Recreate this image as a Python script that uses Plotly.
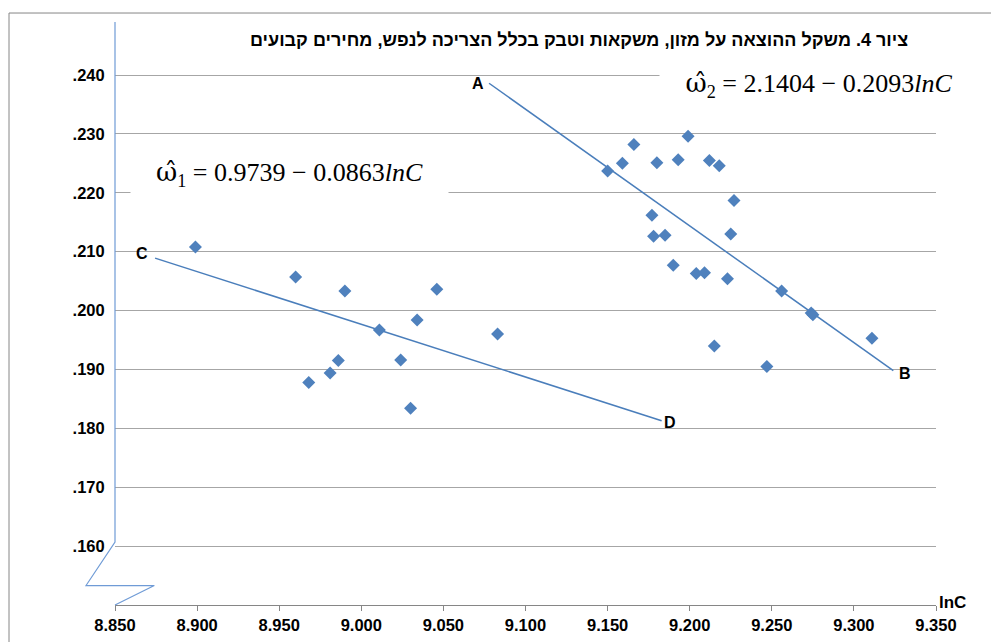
import plotly.graph_objects as go

# ---- data ----
g1_lnc = [8.899, 8.960, 8.990, 8.968, 8.981, 8.986, 9.011, 9.034, 9.024, 9.030, 9.046, 9.083]
g1_w = [0.2108, 0.2057, 0.2033, 0.1878, 0.1894, 0.1915, 0.1967, 0.1984, 0.1916, 0.1834, 0.2036, 0.1960]

g2_lnc = [9.150, 9.159, 9.166, 9.180, 9.193, 9.199, 9.212, 9.218, 9.227, 9.177, 9.178, 9.185,
          9.225, 9.190, 9.204, 9.209, 9.223, 9.256, 9.274, 9.275, 9.311, 9.215, 9.247]
g2_w = [0.2237, 0.2250, 0.2282, 0.2251, 0.2256, 0.2296, 0.2255, 0.2246, 0.2187, 0.2162, 0.2126, 0.2128,
        0.2130, 0.2077, 0.2063, 0.2064, 0.2054, 0.2033, 0.1996, 0.1993, 0.1953, 0.1940, 0.1905]

line_cd_x = [8.8744, 9.1829]
line_cd_y = [0.2089, 0.1813]
line_ab_x = [9.0778, 9.3240]
line_ab_y = [0.2386, 0.1898]

x_ticks = [8.85, 8.90, 8.95, 9.00, 9.05, 9.10, 9.15, 9.20, 9.25, 9.30, 9.35]
x_ticktext = ["8.850", "8.900", "8.950", "9.000", "9.050", "9.100", "9.150", "9.200", "9.250", "9.300", "9.350"]
y_ticks = [0.16, 0.17, 0.18, 0.19, 0.20, 0.21, 0.22, 0.23, 0.24]
y_ticktext = [".160", ".170", ".180", ".190", ".200", ".210", ".220", ".230", ".240"]

title_text = "ציור 4. משקל ההוצאה על מזון, משקאות וטבק בכלל הצריכה לנפש, מחירים קבועים"
OMEGA = "<span style='font-family:DejaVu Serif'>ω̂</span>"
eq1 = OMEGA + "<sub>1</sub> = 0.9739 − 0.0863<i>lnC</i>"
eq2 = OMEGA + "<sub>2</sub> = 2.1404 − 0.2093<i>lnC</i>"

BLUE = "#4f81bd"
LINEBLUE = "#4a7ebb"
GRID = "#a6a6a6"
AXIS = "#868686"
SANS = "Liberation Sans"
SERIF = "Liberation Serif"

fig = go.Figure()
fig.add_trace(go.Scatter(x=line_cd_x, y=line_cd_y, mode="lines",
                         line=dict(color=LINEBLUE, width=1.5), showlegend=False, hoverinfo="skip"))
fig.add_trace(go.Scatter(x=line_ab_x, y=line_ab_y, mode="lines",
                         line=dict(color=LINEBLUE, width=1.5), showlegend=False, hoverinfo="skip"))
fig.add_trace(go.Scatter(x=g1_lnc, y=g1_w, mode="markers",
                         marker=dict(symbol="diamond", size=10, color=BLUE), showlegend=False))
fig.add_trace(go.Scatter(x=g2_lnc, y=g2_w, mode="markers",
                         marker=dict(symbol="diamond", size=10, color=BLUE), showlegend=False))

# page body has an 8px margin, so offset the margins to keep the plot area in place
fig.update_layout(
    width=999, height=642, autosize=False,
    margin=dict(l=107, r=71, t=14, b=45, pad=0),
    paper_bgcolor="white", plot_bgcolor="white",
    showlegend=False,
)
fig.update_xaxes(
    range=[8.85, 9.35], tickvals=x_ticks, ticktext=x_ticktext,
    showgrid=False, zeroline=False, showline=True, linecolor=AXIS, linewidth=1,
    ticks="outside", ticklen=5, tickcolor=AXIS, tickwidth=1,
    tickfont=dict(family=SANS, size=16.5, color="black", weight="bold"),
)
fig.update_yaxes(
    range=[0.150, 0.249], tickvals=y_ticks, ticktext=y_ticktext,
    showgrid=True, gridcolor=GRID, gridwidth=1, zeroline=False, showline=False,
    ticks="outside", ticklen=6, tickcolor="rgba(0,0,0,0)",
    tickfont=dict(family=SANS, size=16.5, color="black", weight="bold"),
)

# outer frame
fig.add_shape(type="rect", xref="paper", yref="paper",
              x0=-0.1291, y0=-0.08, x1=1.09, y1=1.0154,
              line=dict(color=AXIS, width=1), fillcolor="rgba(0,0,0,0)", layer="below")
# y axis line with break mark
fig.add_shape(type="path", xref="paper", yref="paper",
              path="M 0,1 L 0,0.108 L -0.0353,0.0334 L 0.0479,0.0334 L 0,0",
              line=dict(color="#6f9bd6", width=1.2))

# title
fig.add_annotation(text=title_text, xref="paper", yref="paper",
                   x=(910 - 115) / 821, y=(605 - 40) / 583, xanchor="right", yanchor="middle",
                   showarrow=False, font=dict(family=SANS, size=18, color="black", weight="bold"))

# equations with white boxes
fig.add_annotation(text=eq1, xref="paper", yref="paper",
                   x=(289.5 - 115) / 821, y=(605 - 174) / 583, xanchor="center", yanchor="middle",
                   width=317, height=50, align="center", bgcolor="white", borderpad=0,
                   showarrow=False, font=dict(family=SERIF, size=26, color="black"))
fig.add_annotation(text=eq2, xref="paper", yref="paper",
                   x=(819 - 115) / 821, y=(605 - 85) / 583, xanchor="center", yanchor="middle",
                   width=318, height=40, align="center", bgcolor="white", borderpad=0,
                   showarrow=False, font=dict(family=SERIF, size=26, color="black"))

# point labels
lab_font = dict(family=SANS, size=16, color="black", weight="bold")
fig.add_annotation(text="A", x=line_ab_x[0], y=line_ab_y[0], xshift=-11, yshift=0,
                   showarrow=False, font=lab_font)
fig.add_annotation(text="B", x=line_ab_x[1], y=line_ab_y[1], xshift=12, yshift=-3,
                   showarrow=False, font=lab_font)
fig.add_annotation(text="C", x=line_cd_x[0], y=line_cd_y[0], xshift=-13, yshift=5,
                   showarrow=False, font=lab_font)
fig.add_annotation(text="D", x=line_cd_x[1], y=line_cd_y[1], xshift=8, yshift=-2,
                   showarrow=False, font=lab_font)

# axis title
fig.add_annotation(text="lnC", xref="paper", yref="paper",
                   x=(952 - 115) / 821, y=(605 - 602) / 583, xanchor="center", yanchor="middle",
                   showarrow=False, font=dict(family=SANS, size=17, color="black", weight="bold"))

fig.write_html("out.html")
